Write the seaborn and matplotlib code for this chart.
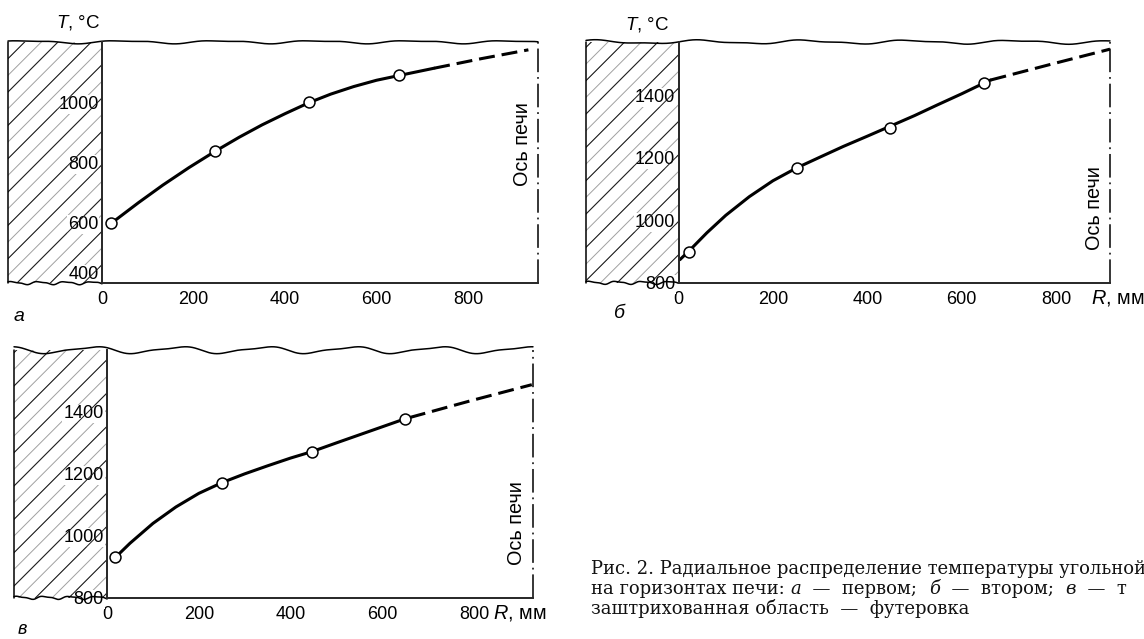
import numpy as np
import pandas as pd
import matplotlib
matplotlib.use("Agg")
import matplotlib.pyplot as plt
import seaborn as sns
from matplotlib.patches import Rectangle

# ---------------- data ----------------
r_ticks = [0, 200, 400, 600, 800]
r_tick_labels = ["0", "200", "400", "600", "800"]

# panel a (first horizon)
a_t_ticks = [400, 600, 800, 1000]
a_pts_r = [20, 247, 453, 650]
a_pts_t = [598, 837, 1000, 1089]
a_curve_r = [20, 80, 133, 190, 247, 300, 350, 400, 453, 500, 550, 600, 650, 726]
a_curve_t = [598, 667, 725, 783, 837, 884, 925, 962, 999, 1027, 1052, 1073, 1089, 1113]
a_ext_r = [726, 830, 932]
a_ext_t = [1113, 1145, 1174]

# panel b (second horizon)
b_t_ticks = [800, 1000, 1200, 1400]
b_pts_r = [23, 250, 447, 648]
b_pts_t = [899, 1168, 1295, 1441]
b_curve_r = [3, 23, 60, 100, 150, 200, 250, 300, 349, 400, 447, 500, 548, 600, 648, 661]
b_curve_t = [874, 903, 960, 1016, 1076, 1127, 1168, 1203, 1237, 1270, 1301, 1336, 1370, 1406, 1441, 1450]
b_ext_r = [661, 790, 914]
b_ext_t = [1450, 1501, 1549]

# panel c (third horizon)
c_t_ticks = [800, 1000, 1200, 1400]
c_pts_r = [18, 251, 447, 650]
c_pts_t = [930, 1172, 1272, 1378]
c_curve_r = [18, 50, 100, 150, 200, 251, 300, 350, 400, 447, 500, 550, 600, 650, 660]
c_curve_t = [930, 976, 1040, 1093, 1137, 1172, 1200, 1226, 1251, 1272, 1300, 1326, 1352, 1378, 1382]
c_ext_r = [660, 795, 926]
c_ext_t = [1382, 1437, 1488]

axis_note = "Ось печи"
caption_1 = "Рис. 2. Радиальное распределение температуры угольной"
caption_2 = [("на горизонтах печи: ", "normal"), ("а", "italic"), ("  —  первом;  ", "normal"),
             ("б", "italic"), ("  —  втором;  ", "normal"), ("в", "italic"), ("  —  т", "normal")]
caption_3 = "заштрихованная область  —  футеровка"

# ---------------- style ----------------
sns.set_theme(style="white")
plt.rcParams["font.family"] = ["Liberation Sans", "DejaVu Sans"]
plt.rcParams["mathtext.fontset"] = "custom"
plt.rcParams["mathtext.it"] = "Liberation Sans:italic"
plt.rcParams["mathtext.rm"] = "Liberation Sans"
plt.rcParams["lines.scale_dashes"] = False
plt.rcParams["hatch.linewidth"] = 0.7
plt.rcParams["axes.linewidth"] = 1.4
plt.rcParams["text.color"] = "black"
plt.rcParams["xtick.color"] = "black"
plt.rcParams["ytick.color"] = "black"

W, H = 1144, 639
fig = plt.figure(figsize=(W / 100, H / 100), dpi=100)
fig.patch.set_facecolor("white")

FS = 13
FS2 = 14.3


def wave(xs, comps):
    y = np.zeros_like(xs)
    for amp, freq, ph in comps:
        y += amp * np.sin(2 * np.pi * freq * xs + ph)
    return y


def draw_panel(rect, xlim, ylim, yticks, curve_r, curve_t, ext_r, ext_t, pts_r, pts_t,
               top_wave, bottom_wave):
    left, top, right, bottom = rect
    hpx = bottom - top
    ax = fig.add_axes([left / W, 1 - bottom / H, (right - left) / W, hpx / H])
    ax.set_facecolor("none")

    # lining (hatched area)
    ax.add_patch(Rectangle((xlim[0], ylim[0]), -xlim[0], ylim[1] - ylim[0], hatch="//",
                           facecolor="none", edgecolor="#a0a0a0", lw=0, zorder=0.5))
    ax.add_patch(Rectangle((xlim[0], ylim[0]), -xlim[0], ylim[1] - ylim[0], hatch="/",
                           facecolor="none", edgecolor="#1a1a1a", lw=0, zorder=0.6))
    ax.plot([xlim[0], xlim[0]], ylim, color="black", lw=1.1, clip_on=False, zorder=3)

    # curves
    df = pd.DataFrame({"R": curve_r, "T": curve_t})
    sns.lineplot(data=df, x="R", y="T", ax=ax, color="black", lw=2.2, sort=False,
                 estimator=None, zorder=2)
    de = pd.DataFrame({"R": ext_r, "T": ext_t})
    sns.lineplot(data=de, x="R", y="T", ax=ax, color="black", lw=2.2, sort=False,
                 estimator=None, linestyle=(0, (11.5, 5)), zorder=2)
    dp = pd.DataFrame({"R": pts_r, "T": pts_t})
    sns.scatterplot(data=dp, x="R", y="T", ax=ax, s=62, color="white", edgecolor="black",
                    linewidth=1.1, zorder=4, marker="o")

    ax.set_xlim(*xlim)
    ax.set_ylim(*ylim)
    ax.set_xlabel("")
    ax.set_ylabel("")

    # furnace axis (dash-dot)
    ax.plot([xlim[1], xlim[1]], ylim, color="black", lw=1.1,
            linestyle=(0, (17, 3.5, 1.3, 3.5)), clip_on=False, zorder=3)

    # spines
    ax.spines["top"].set_visible(False)
    ax.spines["right"].set_visible(False)
    ax.spines["left"].set_position(("data", 0))
    ax.spines["bottom"].set_bounds(0, xlim[1])
    ax.spines["left"].set_zorder(3)
    ax.spines["bottom"].set_zorder(3)

    ax.set_xticks(r_ticks, r_tick_labels)
    ax.set_yticks(yticks, [str(v) for v in yticks])
    ax.tick_params(axis="both", direction="in", length=5.8, width=1.4, labelsize=FS,
                   colors="black")
    ax.tick_params(axis="x", pad=6)
    ax.tick_params(axis="y", pad=2.5)
    for lbl in ax.get_yticklabels() + ax.get_xticklabels():
        lbl.set_bbox(dict(facecolor="white", edgecolor="none", pad=0.6))

    # wavy break lines
    xs = np.linspace(0, 1, 600)
    ax.plot(xs, 1 + wave(xs, top_wave) / hpx, transform=ax.transAxes, color="black",
            lw=1.1, clip_on=False, zorder=3)
    x0 = -xlim[0] / (xlim[1] - xlim[0])
    xb = np.linspace(0, x0, 200)
    ax.plot(xb, wave(xb, bottom_wave) / hpx, transform=ax.transAxes, color="black",
            lw=1.1, clip_on=False, zorder=1.2)
    return ax


top_wave_a = [(1.3, 5.5, 0.3), (0.6, 11.0, 1.7)]
top_wave_b = [(1.6, 5.0, 1.0), (0.7, 10.5, 0.4)]
top_wave_c = [(3.0, 6.0, 2.2), (1.0, 12.0, 0.9)]
bot_wave = [(1.3, 20.0, 0.5), (0.5, 41.0, 1.2)]

ax_a = draw_panel((8, 42, 538, 283), (-205.5, 953), (400, 1200), a_t_ticks,
                  a_curve_r, a_curve_t, a_ext_r, a_ext_t, a_pts_r, a_pts_t,
                  top_wave_a, bot_wave)
ax_b = draw_panel((586, 42, 1110, 282.7), (-196, 914), (800, 1572), b_t_ticks,
                  b_curve_r, b_curve_t, b_ext_r, b_ext_t, b_pts_r, b_pts_t,
                  top_wave_b, bot_wave)
ax_c = draw_panel((14, 350, 533, 597.7), (-203, 928.6), (800, 1600), c_t_ticks,
                  c_curve_r, c_curve_t, c_ext_r, c_ext_t, c_pts_r, c_pts_t,
                  top_wave_c, bot_wave)

# "400" in panel a sits above the bottom line
ax_a.get_yticklabels()[0].set_verticalalignment("bottom")

# axis titles
ax_a.annotate("$T$, °C", xy=(0, 1.079), xycoords=("data", "axes fraction"), xytext=(-1.5, 0),
              textcoords="offset points", ha="right", va="center", fontsize=FS + 0.5)
ax_b.annotate("$T$, °C", xy=(0, 1.071), xycoords=("data", "axes fraction"), xytext=(-6.5, 0),
              textcoords="offset points", ha="right", va="center", fontsize=FS + 0.5)
ax_b.text(0.9637, -0.064, "$R$, мм", transform=ax_b.transAxes, ha="left", va="center",
          fontsize=FS2)
ax_c.text(0.923, -0.062, "$R$, мм", transform=ax_c.transAxes, ha="left", va="center",
          fontsize=FS2)

# furnace axis notes
ax_a.text(0.970, 0.577, axis_note, transform=ax_a.transAxes, rotation=90, ha="center",
          va="center", fontsize=FS2)
ax_b.text(0.971, 0.31, axis_note, transform=ax_b.transAxes, rotation=90, ha="center",
          va="center", fontsize=FS2)
ax_c.text(0.969, 0.30, axis_note, transform=ax_c.transAxes, rotation=90, ha="center",
          va="center", fontsize=FS2)

# panel letters
ax_a.text(0.021, -0.137, "а", transform=ax_a.transAxes, ha="center", va="center",
          fontsize=FS + 1, fontstyle="italic")
ax_b.text(0.063, -0.13, "б", transform=ax_b.transAxes, ha="center", va="center",
          fontsize=FS + 1, fontstyle="italic")
ax_c.text(0.017, -0.128, "в", transform=ax_c.transAxes, ha="center", va="center",
          fontsize=FS, fontstyle="italic")

# caption (serif)
CFS = 13
cap_kw = dict(fontsize=CFS, family=["DejaVu Serif"], va="baseline", ha="left", color="#111111")
x_cap = 591
fig.text(x_cap / W, 1 - 574 / H, caption_1, **cap_kw)
fig.text(x_cap / W, 1 - 614 / H, caption_3, **cap_kw)

renderer = fig.canvas.get_renderer()


def seg_width(s, style):
    t1 = fig.text(0, 0, "x" + s + "x", fontstyle=style, **cap_kw)
    t2 = fig.text(0, 0, "xx", fontstyle=style, **cap_kw)
    w = t1.get_window_extent(renderer).width - t2.get_window_extent(renderer).width
    t1.remove()
    t2.remove()
    return w


xp = x_cap
for s, style in caption_2:
    fig.text(xp / W, 1 - 594 / H, s, fontstyle=style, **cap_kw)
    xp += seg_width(s, style)

fig.savefig("out.png", dpi=100, facecolor="white")
